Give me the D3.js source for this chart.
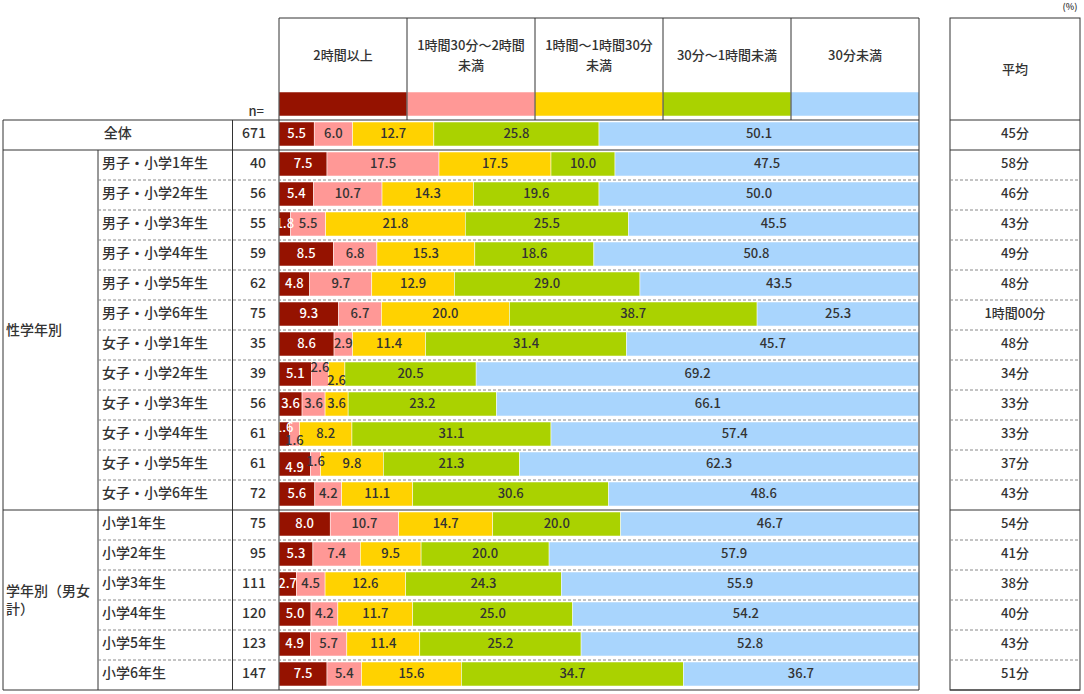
<!DOCTYPE html>
<html>
<head>
<meta charset="utf-8">
<script src="https://cdn.jsdelivr.net/npm/d3@7"></script>
<style>
  body { margin: 0; background: #fff; }
  text { font-family: "Noto Sans CJK JP", "Noto Sans", sans-serif; fill: #333; font-weight: 500; }
</style>
</head>
<body>
<div id="chart"></div>
<script>
// Row labels
var categories = ["全体",
  "男子・小学1年生", "男子・小学2年生", "男子・小学3年生", "男子・小学4年生", "男子・小学5年生", "男子・小学6年生",
  "女子・小学1年生", "女子・小学2年生", "女子・小学3年生", "女子・小学4年生", "女子・小学5年生", "女子・小学6年生",
  "小学1年生", "小学2年生", "小学3年生", "小学4年生", "小学5年生", "小学6年生"];
var nValues = [671, 40, 56, 55, 59, 62, 75, 35, 39, 56, 61, 61, 72, 75, 95, 111, 120, 123, 147];
var averages = ["45分", "58分", "46分", "43分", "49分", "48分", "1時間00分", "48分", "34分", "33分",
  "33分", "37分", "43分", "54分", "41分", "38分", "40分", "43分", "51分"];

// Series (legend order)
var seriesNames = ["2時間以上", "1時間30分～2時間\n未満", "1時間～1時間30分\n未満", "30分～1時間未満", "30分未満"];
var over2h    = [5.5, 7.5, 5.4, 1.8, 8.5, 4.8, 9.3, 8.6, 5.1, 3.6, 1.6, 4.9, 5.6, 8.0, 5.3, 2.7, 5.0, 4.9, 7.5];
var h90to120  = [6.0, 17.5, 10.7, 5.5, 6.8, 9.7, 6.7, 2.9, 2.6, 3.6, 1.6, 1.6, 4.2, 10.7, 7.4, 4.5, 4.2, 5.7, 5.4];
var h60to90   = [12.7, 17.5, 14.3, 21.8, 15.3, 12.9, 20.0, 11.4, 2.6, 3.6, 8.2, 9.8, 11.1, 14.7, 9.5, 12.6, 11.7, 11.4, 15.6];
var m30to60   = [25.8, 10.0, 19.6, 25.5, 18.6, 29.0, 38.7, 31.4, 20.5, 23.2, 31.1, 21.3, 30.6, 20.0, 20.0, 24.3, 25.0, 25.2, 34.7];
var under30   = [50.1, 47.5, 50.0, 45.5, 50.8, 43.5, 25.3, 45.7, 69.2, 66.1, 57.4, 62.3, 48.6, 46.7, 57.9, 55.9, 54.2, 52.8, 36.7];

var colors = ["#951200", "#ff9896", "#ffd200", "#aad200", "#a9d5fd"];

var svgWidth = 1084, svgHeight = 694;
var svg = d3.select("#chart").append("svg")
  .attr("width", svgWidth)
  .attr("height", svgHeight);

// build table rows for d3.stack
var keys = d3.range(seriesNames.length);
var seriesArrays = [over2h, h90to120, h60to90, m30to60, under30];
var rows = categories.map(function(c, i) {
  var r = { cat: c, n: nValues[i], avg: averages[i] };
  keys.forEach(function(k) { r[k] = seriesArrays[k][i]; });
  return r;
});
var stacked = d3.stack().keys(keys)(rows);

// scales
var x = d3.scaleLinear().domain([0, 100]).range([279, 919]).clamp(true);
var y = d3.scaleBand().domain(categories).range([120, 690]);
var legendX = d3.scaleBand().domain(keys).range([279, 919]);
var color = d3.scaleOrdinal().domain(keys).range(colors);

var lineColor = "#333";
var dashColor = "#888";

// group breaks
var groupStarts = ["男子・小学1年生", "小学1年生"];
var topY = 18, headTop = y.range()[0], bottomY = y.range()[1];

// ---- bars ----
var barLayer = svg.append("g");
var labelLayer = svg.append("g");   // labels stay on top of every segment

barLayer.selectAll("g")
  .data(stacked)
  .enter().append("g")
  .attr("fill", function(d) { return color(d.key); })
  .selectAll("rect")
  .data(function(d) { return d; })
  .enter().append("rect")
  .attr("x", function(d) { return x(d[0]); })
  .attr("y", function(d) { return y(d.data.cat) + 2; })
  .attr("width", function(d) { return x(d[1]) - x(d[0]); })
  .attr("height", y.bandwidth() - 6)
  .attr("stroke", "#fff")
  .attr("stroke-width", 0.5);

// labels, nudging crowded neighbours up / down
function nudge(rowIdx, k) {
  var v = seriesArrays[k][rowIdx];
  var prev = k > 0 ? seriesArrays[k - 1][rowIdx] : null;
  var next = k < keys.length - 1 ? seriesArrays[k + 1][rowIdx] : null;
  if (next !== null && v + next < 7) return v <= next ? -6 : 4;
  if (prev !== null && v + prev < 7) return prev <= v ? 7 : -2;
  return 0;
}

labelLayer.selectAll("g")
  .data(stacked)
  .enter().append("g")
  .each(function(s) {
    d3.select(this).selectAll("text")
      .data(s)
      .enter().append("text")
      .attr("x", function(d) { return (x(d[0]) + x(d[1])) / 2; })
      .attr("y", function(d, i) { return y(d.data.cat) + (y.bandwidth() - 4) / 2 + nudge(i, s.key); })
      .attr("dy", "0.35em")
      .attr("text-anchor", "middle")
      .style("font-size", "13px")
      .style("fill", s.key === 0 ? "#fff" : "#333")
      .text(function(d) { return d3.format(".1f")(d[1] - d[0]); });
  });

// ---- header / legend ----
svg.append("g").selectAll("rect")
  .data(keys)
  .enter().append("rect")
  .attr("x", function(k) { return legendX(k); })
  .attr("y", 92)
  .attr("width", legendX.bandwidth())
  .attr("height", 24)
  .attr("fill", function(k) { return color(k); })
  .attr("stroke", "#fff")
  .attr("stroke-width", 0.5);

var headText = svg.append("g").selectAll("text")
  .data(keys)
  .enter().append("text")
  .attr("text-anchor", "middle")
  .style("font-size", "13px");
headText.each(function(k) {
  var parts = seriesNames[k].split("\n");
  var t = d3.select(this);
  parts.forEach(function(p, j) {
    t.append("tspan")
      .attr("x", legendX(k) + legendX.bandwidth() / 2)
      .attr("y", 55 + (j - (parts.length - 1) / 2) * 20)
      .attr("dy", "0.35em")
      .text(p);
  });
});

var grid = svg.append("g").attr("fill", "none");

// header box lines
grid.append("line").attr("x1", 279).attr("x2", 919).attr("y1", topY).attr("y2", topY).attr("stroke", lineColor);
legendX.domain().forEach(function(k) {
  grid.append("line")
    .attr("x1", legendX(k)).attr("x2", legendX(k))
    .attr("y1", topY).attr("y2", headTop)
    .attr("stroke", lineColor);
});
grid.append("line").attr("x1", 919).attr("x2", 919).attr("y1", topY).attr("y2", bottomY).attr("stroke", lineColor);
grid.append("line").attr("x1", 279).attr("x2", 279).attr("y1", headTop).attr("y2", bottomY).attr("stroke", lineColor);

// left table
grid.append("line").attr("x1", 3).attr("x2", 3).attr("y1", headTop).attr("y2", bottomY).attr("stroke", lineColor);
grid.append("line").attr("x1", 98).attr("x2", 98).attr("y1", y(groupStarts[0])).attr("y2", bottomY).attr("stroke", lineColor);
grid.append("line").attr("x1", 232.5).attr("x2", 232.5).attr("y1", headTop).attr("y2", bottomY).attr("stroke", lineColor);

// average box
var avgL = 950, avgR = 1080, avgC = (avgL + avgR) / 2;
grid.append("rect").attr("x", avgL).attr("y", topY)
  .attr("width", avgR - avgL).attr("height", bottomY - topY)
  .attr("stroke", lineColor);

// row separators
var solidYs = [headTop, bottomY].concat(groupStarts.map(function(c) { return y(c); }));
solidYs.push(y(categories[1]));
categories.forEach(function(c, i) {
  if (i === 0) return;
  var yy = y(c);
  var solid = solidYs.indexOf(yy) >= 0;
  grid.append("line")
    .attr("x1", solid ? 3 : 98).attr("x2", 919)
    .attr("y1", yy).attr("y2", yy)
    .attr("stroke", solid ? lineColor : dashColor)
    .attr("stroke-dasharray", solid ? null : "3,2");
  grid.append("line")
    .attr("x1", avgL).attr("x2", avgR)
    .attr("y1", yy).attr("y2", yy)
    .attr("stroke", solid ? lineColor : dashColor)
    .attr("stroke-dasharray", solid ? null : "3,2");
});
[headTop, bottomY].forEach(function(yy) {
  grid.append("line").attr("x1", 3).attr("x2", 919).attr("y1", yy).attr("y2", yy).attr("stroke", lineColor);
  grid.append("line").attr("x1", avgL).attr("x2", avgR).attr("y1", yy).attr("y2", yy).attr("stroke", lineColor);
});

// ---- table text ----
var rowMid = function(c) { return y(c) + (y.bandwidth() - 4) / 2; };

svg.append("g").selectAll("text")
  .data(rows.slice(1))
  .enter().append("text")
  .attr("x", 102)
  .attr("y", function(d) { return rowMid(d.cat); })
  .attr("dy", "0.35em")
  .style("font-size", "14px")
  .text(function(d) { return d.cat; });

svg.append("text")
  .attr("x", (3 + 232.5) / 2)
  .attr("y", rowMid(categories[0]))
  .attr("dy", "0.35em")
  .attr("text-anchor", "middle")
  .style("font-size", "14px")
  .text(categories[0]);

svg.append("g").selectAll("text")
  .data(rows)
  .enter().append("text")
  .attr("x", 266)
  .attr("y", function(d) { return rowMid(d.cat); })
  .attr("dy", "0.35em")
  .attr("text-anchor", "end")
  .style("font-size", "14px")
  .text(function(d) { return d.n; });

svg.append("text")
  .attr("x", 264).attr("y", 111).attr("dy", "0.35em")
  .attr("text-anchor", "end")
  .style("font-size", "13px")
  .text("n=");

svg.append("g").selectAll("text")
  .data(rows)
  .enter().append("text")
  .attr("x", avgC)
  .attr("y", function(d) { return rowMid(d.cat); })
  .attr("dy", "0.35em")
  .attr("text-anchor", "middle")
  .style("font-size", "13px")
  .text(function(d) { return d.avg; });

svg.append("text")
  .attr("x", avgC).attr("y", 69).attr("dy", "0.35em")
  .attr("text-anchor", "middle")
  .style("font-size", "13px")
  .text("平均");

svg.append("text")
  .attr("x", 1070).attr("y", 7).attr("dy", "0.35em")
  .attr("text-anchor", "middle")
  .style("font-size", "9px")
  .text("(%)");

// group labels
var g1Mid = (y(groupStarts[0]) + y(groupStarts[1])) / 2;
svg.append("text")
  .attr("x", 6).attr("y", g1Mid).attr("dy", "0.35em")
  .style("font-size", "14px")
  .text("性学年別");

var g2Mid = (y(groupStarts[1]) + bottomY) / 2;
svg.append("text")
  .attr("x", 6).attr("y", g2Mid - 9).attr("dy", "0.35em")
  .style("font-size", "14px")
  .text("学年別（男女");
svg.append("text")
  .attr("x", 6).attr("y", g2Mid + 9).attr("dy", "0.35em")
  .style("font-size", "14px")
  .text("計）");
</script>
</body>
</html>
